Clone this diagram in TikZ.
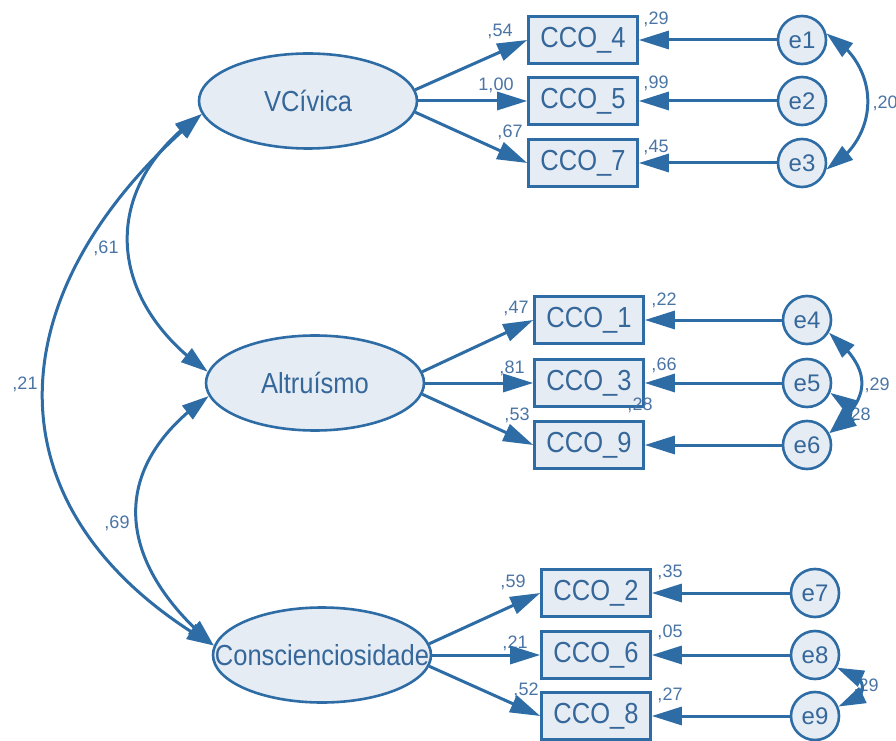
\documentclass[tikz,border=0pt]{standalone}
\usepackage{fontspec}
\setmainfont{Liberation Sans}
\newfontfamily\boxfont{Liberation Sans}[FakeStretch=0.88]
\usetikzlibrary{arrows.meta,bending,shapes.geometric}
\definecolor{semline}{HTML}{2E6CA5}
\definecolor{semfill}{HTML}{E6ECF4}
\definecolor{semtext}{HTML}{35679A}
\definecolor{semlab}{HTML}{4A74A4}
\tikzset{
  latent/.style={ellipse,draw=semline,fill=semfill,line width=2.6pt,minimum width=218pt,minimum height=95pt,inner sep=0pt,text=semtext,font=\boxfont\fontsize{29}{30}\selectfont},
  observed/.style={rectangle,draw=semline,fill=semfill,line width=2.6pt,minimum width=109pt,minimum height=47pt,inner sep=0pt,text=semtext,font=\boxfont\fontsize{29}{30}\selectfont},
  errnode/.style={circle,draw=semline,fill=semfill,line width=2.6pt,minimum size=48pt,inner sep=0pt,text=semtext,font=\fontsize{24}{26}\selectfont},
  coef/.style={inner sep=0pt,text=semlab,font=\fontsize{18}{20}\selectfont},
  loadarrow/.style={color=semline,line width=3pt,-{Triangle[length=30pt,width=18pt]}},
  covarrow/.style={color=semline,line width=3pt,{Triangle[length=27pt,width=17pt]}-{Triangle[length=27pt,width=17pt]}}
}
\begin{document}
\begin{tikzpicture}[x=1pt,y=1pt]
  \useasboundingbox (0,0) rectangle (896,740);
  % latent factors
  \node[latent] (vc) at (308,639) {VCívica};
  \node[latent] (alt) at (315,357) {Altruísmo};
  \node[latent] (con) at (322,85) {\makebox[0pt]{Conscienciosidade}};
  % indicators
  \node[observed] (c4) at (583,700) {CCO\_4};
  \node[observed] (c5) at (583,639) {CCO\_5};
  \node[observed] (c7) at (583,577) {CCO\_7};
  \node[observed] (c1) at (589,420) {CCO\_1};
  \node[observed] (c3) at (589,357) {CCO\_3};
  \node[observed] (c9) at (589,295) {CCO\_9};
  \node[observed] (c2) at (596,147) {CCO\_2};
  \node[observed] (c6) at (596,85) {CCO\_6};
  \node[observed] (c8) at (596,24) {CCO\_8};
  % errors
  \node[errnode] (e1) at (802,700) {e1};
  \node[errnode] (e2) at (802,639) {e2};
  \node[errnode] (e3) at (802,577) {e3};
  \node[errnode] (e4) at (807,420) {e4};
  \node[errnode] (e5) at (807,357) {e5};
  \node[errnode] (e6) at (807,295) {e6};
  \node[errnode] (e7) at (815,147) {e7};
  \node[errnode] (e8) at (815,85) {e8};
  \node[errnode] (e9) at (815,24) {e9};

  % estimates
  \node[coef] (l4) at (500,709) {,54};
  \node[coef] (l5) at (496,655) {1,00};
  \node[coef] (l7) at (510,608) {,67};
  \node[coef] (r4) at (656,721) {,29};
  \node[coef] (r5) at (656,657) {,99};
  \node[coef] (r7) at (656,593) {,45};
  \node[coef] (l1) at (516,432) {,47};
  \node[coef] (l3) at (512,372) {,81};
  \node[coef] (l9) at (517,325) {,53};
  \node[coef] (r1) at (664,440) {,22};
  \node[coef] (r3) at (664,375) {,66};
  \node[coef] (r9) at (640,335) {,28};
  \node[coef] (l2) at (513,158) {,59};
  \node[coef] (l6) at (515,97) {,21};
  \node[coef] (l8) at (526,50) {,52};
  \node[coef] (r2) at (670,168) {,35};
  \node[coef] (r6) at (670,108) {,05};
  \node[coef] (r8) at (670,45) {,27};
  \node[coef] (k61) at (106,492) {,61};
  \node[coef] (k21) at (25,356) {,21};
  \node[coef] (k69) at (117,217) {,69};
  \node[coef] (k13) at (885,637) {,20};
  \node[coef] (k46) at (877,355) {,29};
  \node[coef] (k56) at (858,325) {,28};
  \node[coef] (k89) at (866,54) {,29};

  \foreach \from/\to in {vc.6/c4.west,vc.east/c5.west,vc.-6/c7.west,
  alt.6/c1.west,alt.east/c3.west,alt.-6/c9.west,
  con.6/c2.west,con.east/c6.west,con.-6/c8.west,
  e1/c4,e2/c5,e3/c7,e4/c1,e5/c3,e6/c9,e7/c2,e8/c6,e9/c8}
    \draw[loadarrow] (\from) -- (\to);

  \path[covarrow]
  (vc.187) edge[out=215,in=145,looseness=1.25] (alt.174)
  (vc.187) edge[out=220,in=150,looseness=1.3] (con.175)
  (alt.187) edge[out=215,in=140,looseness=1.3] (con.175)
  (e1.15) edge[out=-30,in=30,looseness=1.2] (e3.-15)
  (e4.-30) edge[out=-40,in=40,looseness=1.45] (e6.28)
  (e5.-23) edge[out=-20,in=20,looseness=1.9] (e6.28)
  (e8.-30) edge[out=-10,in=10,looseness=2.2] (e9.22);

\end{tikzpicture}
\end{document}
